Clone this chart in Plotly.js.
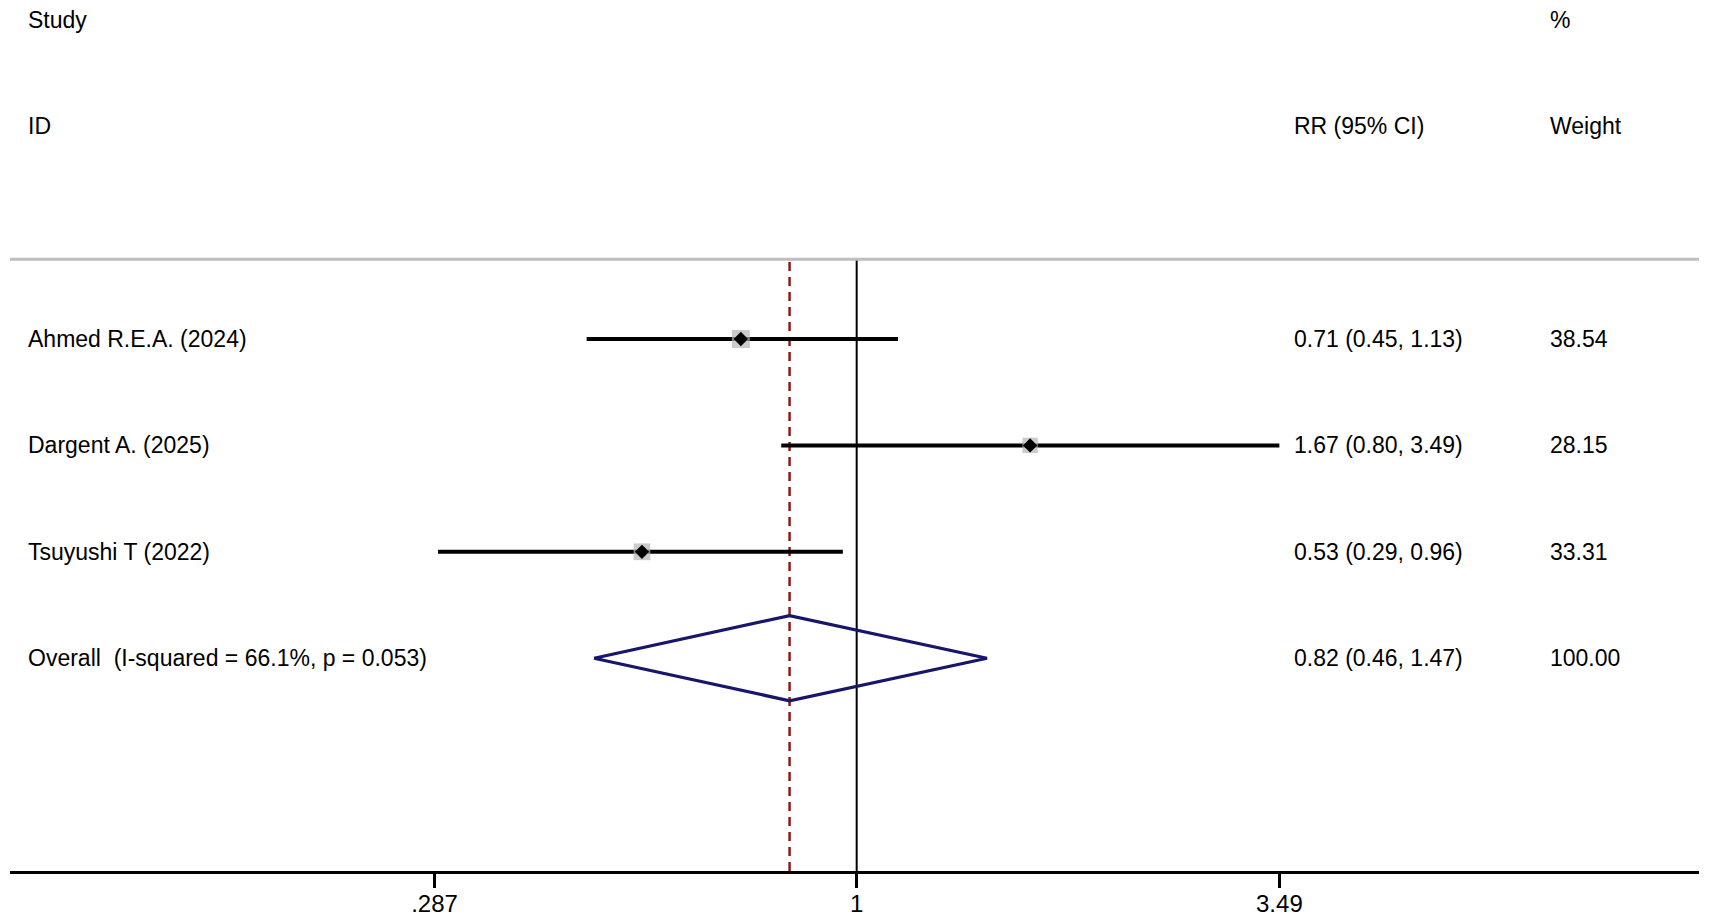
<!DOCTYPE html>
<html>
<head>
<meta charset="utf-8">
<script src="https://cdn.plot.ly/plotly-3.0.1.min.js"></script>
<style>
  html, body { margin: 0; padding: 0; background: #ffffff; }
  #chart { width: 1712px; height: 923px; }
</style>
</head>
<body>
<div id="chart"></div>
<script>
// ---- data ----
const studies   = ["Ahmed R.E.A. (2024)", "Dargent A. (2025)", "Tsuyushi T (2022)"];
const rr        = [0.71, 1.67, 0.53];
const ciLow     = [0.45, 0.80, 0.29];
const ciHigh    = [1.13, 3.49, 0.96];
const weights   = [38.54, 28.15, 33.31];

const overallLabel = "Overall\u00a0\u00a0(I-squared = 66.1%, p = 0.053)";
const overallRR    = 0.82;
const overallLow   = 0.46;
const overallHigh  = 1.47;
const overallWeight = 100.00;

const nullValue  = 1;
const tickValues = [0.287, 1, 3.49];
const tickLabels = [".287", "1", "3.49"];

const headerStudy  = ["Study", "ID"];
const headerEffect = "RR (95% CI)";
const headerWeight = ["%", "Weight"];

// ---- layout helpers ----
const nRows = studies.length;
const rowY = studies.map((_, i) => 5 - i);      // study rows
const overallY = rowY[nRows - 1] - 1;           // overall row
const headerTopY = 8, headerBotY = 7, ruleY = 5.75;
const diamondHalf = 0.4;

const fontFam = '"Liberation Sans", Arial, "DejaVu Sans", sans-serif';
const txtSize = 23;

const fmt2 = v => v.toFixed(2);
const effText = (r, l, h) => `${fmt2(r)} (${fmt2(l)}, ${fmt2(h)})`;

const traces = [];

// null line at 1
traces.push({
  x: [nullValue, nullValue], y: [0, ruleY], mode: "lines",
  line: { color: "#000000", width: 2 }, hoverinfo: "skip", showlegend: false
});
// overall effect dashed line
traces.push({
  x: [overallRR, overallRR], y: [0, ruleY], mode: "lines",
  line: { color: "#8b1c1c", width: 2.5, dash: "9px,6px" }, hoverinfo: "skip", showlegend: false
});
// study CIs with weight boxes
traces.push({
  x: rr, y: rowY, mode: "markers", type: "scatter",
  error_x: {
    type: "data", symmetric: false,
    array: rr.map((v, i) => ciHigh[i] - v),
    arrayminus: rr.map((v, i) => v - ciLow[i]),
    color: "#000000", thickness: 4, width: 0
  },
  marker: { symbol: "square", color: "#b5b5b5", size: weights.map(w => 2.9 * Math.sqrt(w)), line: { width: 0 } },
  hoverinfo: "skip", showlegend: false
});
// point estimates
traces.push({
  x: rr, y: rowY, mode: "markers",
  marker: { symbol: "diamond", color: "#000000", size: 11, line: { width: 0 } },
  hoverinfo: "skip", showlegend: false
});
// overall diamond
traces.push({
  x: [overallLow, overallRR, overallHigh, overallRR, overallLow],
  y: [overallY, overallY + diamondHalf, overallY, overallY - diamondHalf, overallY],
  mode: "lines", line: { color: "#16166b", width: 3.2 },
  hoverinfo: "skip", showlegend: false
});

// ---- text columns ----
const colStudy = 0.0092, colEff = 0.7593, colW = 0.9104;
const ann = [];
function addText(x, y, t) {
  ann.push({ xref: "paper", yref: "y", x: x, y: y, text: t, showarrow: false,
    xanchor: "left", yanchor: "middle", font: { family: fontFam, size: txtSize, color: "#000000" } });
}
addText(colStudy, headerTopY, headerStudy[0]);
addText(colStudy, headerBotY, headerStudy[1]);
addText(colEff, headerBotY, headerEffect);
addText(colW, headerTopY, headerWeight[0]);
addText(colW, headerBotY, headerWeight[1]);
studies.forEach((s, i) => {
  addText(colStudy, rowY[i], s);
  addText(colEff, rowY[i], effText(rr[i], ciLow[i], ciHigh[i]));
  addText(colW, rowY[i], fmt2(weights[i]));
});
addText(colStudy, overallY, overallLabel);
addText(colEff, overallY, effText(overallRR, overallLow, overallHigh));
addText(colW, overallY, fmt2(overallWeight));

const layout = {
  width: 1712, height: 923,
  margin: { l: 10, r: 13, t: 0, b: 52 },
  paper_bgcolor: "#ffffff", plot_bgcolor: "#ffffff",
  showlegend: false,
  xaxis: {
    type: "log", range: [-1.0873, 1.0817], fixedrange: true,
    tickmode: "array", tickvals: tickValues, ticktext: tickLabels,
    ticks: "outside", ticklen: 14, tickwidth: 2.5, tickcolor: "#000000",
    ticklabelstandoff: -5,
    showline: true, linecolor: "#000000", linewidth: 3,
    showgrid: false, zeroline: false,
    tickfont: { family: fontFam, size: 24, color: "#000000" }
  },
  yaxis: {
    range: [0, 8.186], visible: false, fixedrange: true,
    showgrid: false, zeroline: false
  },
  shapes: [{
    type: "line", xref: "paper", yref: "y", x0: 0, x1: 1, y0: ruleY, y1: ruleY,
    line: { color: "#bebebe", width: 3 }
  }],
  annotations: ann
};

Plotly.newPlot("chart", traces, layout, { displayModeBar: false, staticPlot: true });
</script>
</body>
</html>
